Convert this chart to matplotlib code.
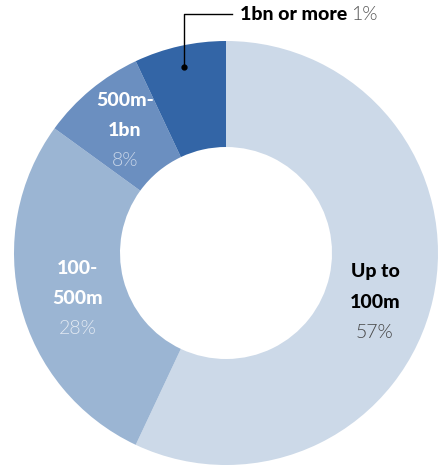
import numpy as np
import matplotlib
matplotlib.use('Agg')
import matplotlib.pyplot as plt

plt.rcParams['font.family'] = ['Lato', 'DejaVu Sans']

#%% datos
categorias = ['Up to\n100m', '100-\n500m', '500m-\n1bn', '1bn or more']
valores = [57, 28, 8, 7]          # tamaño de las porciones como se ve en la figura
etiquetas_pct = ['57%', '28%', '8%', '1%']
colores = ['#ccd9e8', '#9bb5d3', '#6b8fc0', '#3365a6']

#%% figura
W, H = 443, 466
fig = plt.figure(figsize=(W/100, H/100), dpi=100)
cx, cy, R = 226, 253, 212
ax = fig.add_axes([(cx-R)/W, (H-cy-R)/H, 2*R/W, 2*R/H])
ax.pie(valores, colors=colores, startangle=90, counterclock=False, radius=1,
       wedgeprops=dict(width=0.5, edgecolor='none'))
ax.set_xlim(-1, 1)
ax.set_ylim(-1, 1)
ax.set_aspect('equal')
ax.axis('off')

def px(x, y):
    return (x-cx)/R, (cy-y)/R

fs = 14
# etiquetas dentro de las porciones (posiciones en pixeles de la figura)
pos = [(375, 272), (78, 268), (125, 100)]
col_txt = ['black', 'white', 'white']
col_pct = ['#444444', '#e3eaf3', '#c9d6e9']
for i in range(3):
    x, y = pos[i]
    l1, l2 = categorias[i].split('\n')
    ax.text(*px(x, y), l1, ha='center', va='center', fontsize=fs, fontweight=900, color=col_txt[i])
    ax.text(*px(x, y+30), l2, ha='center', va='center', fontsize=fs, fontweight=900, color=col_txt[i])
    ax.text(*px(x, y+60), etiquetas_pct[i], ha='center', va='center', fontsize=fs, fontweight=300, color=col_pct[i])

# anotacion de la porcion chica
ax.plot(*px(184, 67), 'o', color='black', ms=3.5, clip_on=False)
xs, ys = zip(px(184, 67), px(184, 14), px(232, 14))
ax.plot(xs, ys, color='black', lw=1, clip_on=False)
t = ax.text(*px(240, 14), categorias[3], ha='left', va='center', fontsize=fs, fontweight=900, color='black')
fig.canvas.draw()
bb = t.get_window_extent()
x_end = ax.transData.inverted().transform((bb.x1, bb.y0))[0]
ax.text(x_end + 4/R, px(0, 14)[1], etiquetas_pct[3], ha='left', va='center', fontsize=fs,
        fontweight=300, color='#555555')

fig.savefig('out.png', dpi=100)
